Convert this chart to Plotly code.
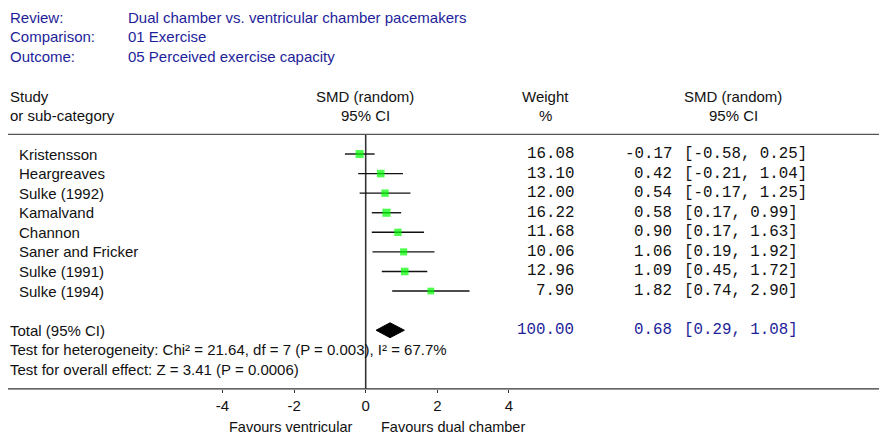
import plotly.graph_objects as go

# ---- data ----
studies = ["Kristensson", "Heargreaves", "Sulke (1992)", "Kamalvand", "Channon",
           "Saner and Fricker", "Sulke (1991)", "Sulke (1994)"]
weights = [16.08, 13.10, 12.00, 16.22, 11.68, 10.06, 12.96, 7.90]
smd = [-0.17, 0.42, 0.54, 0.58, 0.90, 1.06, 1.09, 1.82]
ci_lo = [-0.58, -0.21, -0.17, 0.17, 0.17, 0.19, 0.45, 0.74]
ci_hi = [0.25, 1.04, 1.25, 0.99, 1.63, 1.92, 1.72, 2.90]
total_weight = 100.00
total_smd = 0.68
total_lo = 0.29
total_hi = 1.08
tick_vals = [-4, -2, 0, 2, 4]
tick_text = ["-4", "-2", "0", "2", "4"]

header_labels = ["Review:", "Comparison:", "Outcome:"]
header_values = ["Dual chamber vs. ventricular chamber pacemakers", "01 Exercise",
                 "05 Perceived exercise capacity"]
footer_lines = ["Total (95% CI)",
                "Test for heterogeneity: Chi² = 21.64, df = 7 (P = 0.003), I² = 67.7%",
                "Test for overall effect: Z = 3.41 (P = 0.0006)"]

# ---- layout geometry ----
W, H = 879, 436
X0_PX, PX_PER_UNIT = 365.7, 35.8
ROW0_PX, ROW_STEP = 154.0, 19.58
xr = [(-X0_PX) / PX_PER_UNIT, (W - X0_PX) / PX_PER_UNIT]
yr = [(H - ROW0_PX) / ROW_STEP, (-ROW0_PX) / ROW_STEP]

def px(xp):
    return xp / W

def py(yp):
    return 1 - yp / H

SANS = "Liberation Sans, Arial, sans-serif"
MONO = "Liberation Mono, Courier New, monospace"
SS = 15
MS = 15.8
BLUE = "#1e1e9a"
TXT = "#111111"

rows = list(range(len(studies)))
total_row = len(studies) + 1

fig = go.Figure()

# CI lines
xs, ys = [], []
for i, (l, h) in enumerate(zip(ci_lo, ci_hi)):
    xs += [l, h, None]
    ys += [i, i, None]
fig.add_trace(go.Scatter(x=xs, y=ys, mode="lines", line=dict(color="#111111", width=1.4),
                         hoverinfo="skip", showlegend=False))

# markers
fig.add_trace(go.Scatter(x=smd, y=rows, mode="markers",
                         marker=dict(symbol="square", color="#00FF00",
                                     size=[5.5 + w * 0.16 for w in weights],
                                     line=dict(width=0)),
                         showlegend=False))

# total diamond
dh = 0.38
fig.add_trace(go.Scatter(x=[total_lo, total_smd, total_hi, total_smd, total_lo],
                         y=[total_row, total_row - dh, total_row, total_row + dh, total_row],
                         mode="lines", fill="toself", fillcolor="black",
                         line=dict(color="black", width=1), showlegend=False))

# zero line & separators
fig.add_shape(type="line", xref="x", yref="y", x0=0, x1=0, y0=-1, y1=12,
              line=dict(color="#333333", width=1.6), layer="below")
fig.add_shape(type="line", xref="paper", yref="y", x0=px(8), x1=1, y0=-1, y1=-1,
              line=dict(color="#555555", width=1.3))
fig.add_shape(type="line", xref="paper", yref="y", x0=px(8), x1=1, y0=12, y1=12,
              line=dict(color="#333333", width=1.3))

ann = []
def A(x, y, text, xanchor="left", font=SANS, size=SS, color=TXT, yref="paper"):
    ann.append(dict(x=x, y=y, xref="paper", yref=yref, text=text, showarrow=False,
                    xanchor=xanchor, yanchor="middle",
                    font=dict(family=font, size=size, color=color)))

# header
for k, (lab, val) in enumerate(zip(header_labels, header_values)):
    A(px(8), py(17 + 19.5 * k), lab, color=BLUE)
    A(px(126), py(17 + 19.5 * k), val, color=BLUE)

# column headers
A(px(8), py(96), "Study")
A(px(8), py(115), "or sub-category")
A(px(365), py(96), "SMD (random)", xanchor="center")
A(px(365), py(115), "95% CI", xanchor="center")
A(px(545), py(96), "Weight", xanchor="center")
A(px(545), py(115), "%", xanchor="center")
A(px(733), py(96), "SMD (random)", xanchor="center")
A(px(733), py(115), "95% CI", xanchor="center")

# study rows
for i, name in enumerate(studies):
    A(px(17), i, name, yref="y")
    A(px(576), i, f"{weights[i]:.2f}", xanchor="right", font=MONO, size=MS, yref="y")
    A(px(674), i, f"{smd[i]:.2f}", xanchor="right", font=MONO, size=MS, yref="y")
    A(px(682), i, f"[{ci_lo[i]:.2f}, {ci_hi[i]:.2f}]", font=MONO, size=MS, yref="y")

# total row
A(px(8), total_row, footer_lines[0], yref="y")
A(px(576), total_row, f"{total_weight:.2f}", xanchor="right", font=MONO, size=MS, color=BLUE, yref="y")
A(px(674), total_row, f"{total_smd:.2f}", xanchor="right", font=MONO, size=MS, color=BLUE, yref="y")
A(px(682), total_row, f"[{total_lo:.2f}, {total_hi:.2f}]", font=MONO, size=MS, color=BLUE, yref="y")
A(px(8), total_row + 1, footer_lines[1], yref="y")
A(px(8), total_row + 2, footer_lines[2], yref="y")

# favours labels
A(px(354), py(426.5), "Favours ventricular", xanchor="right", size=14.5)
A(px(379), py(426.5), "Favours dual chamber", size=14.5)

fig.update_layout(
    width=W, height=H, margin=dict(l=0, r=0, t=0, b=0),
    paper_bgcolor="white", plot_bgcolor="white",
    annotations=ann, showlegend=False,
    xaxis=dict(range=xr, domain=[0, 1], anchor="free", position=py(389.2),
               showgrid=False, zeroline=False, showline=False,
               tickmode="array", tickvals=tick_vals, ticktext=tick_text,
               ticks="outside", ticklen=3, tickwidth=1.2, tickcolor="#333333",
               tickfont=dict(family=SANS, size=SS, color=TXT), fixedrange=True),
    yaxis=dict(range=yr, domain=[0, 1], showgrid=False, zeroline=False, showline=False,
               showticklabels=False, ticks="", fixedrange=True),
)

fig.write_html("out.html", config={"displayModeBar": False},
               post_script="document.body.style.margin='0';document.body.style.overflow='hidden';")
